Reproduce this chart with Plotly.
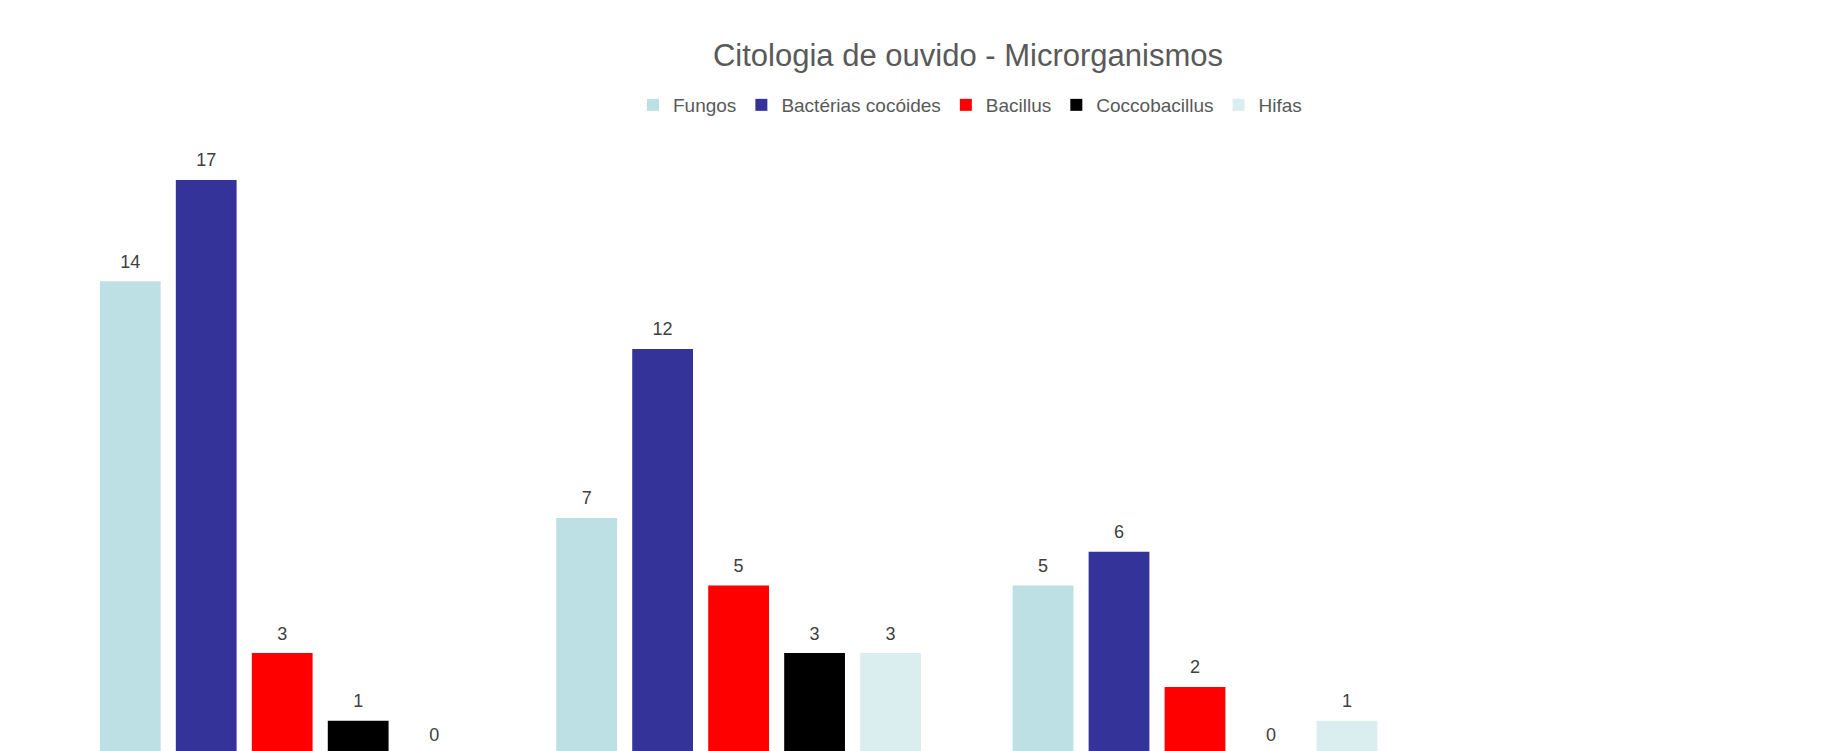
import plotly.graph_objects as go

categories = ["Grupo 1", "Grupo 2", "Grupo 3"]
series_names = ["Fungos", "Bactérias cocóides", "Bacillus", "Coccobacillus", "Hifas"]
fungos = [14, 7, 5]
bacterias_cocoides = [17, 12, 6]
bacillus = [3, 5, 2]
coccobacillus = [1, 3, 0]
hifas = [0, 3, 1]
colors = ["#BCE0E4", "#333399", "#FF0000", "#000000", "#DAEDEF"]

series_values = [fungos, bacterias_cocoides, bacillus, coccobacillus, hifas]

W, H = 1825, 751
ml, mt = 54, 130
plot_h = H - mt
px_per_unit = 33.8
below = 3.5  # baseline lies this many px below the bottom of the window
y0 = below / px_per_unit
y1 = y0 + plot_h / px_per_unit
# label axis: same scale, shifted so that zero-valued labels stay inside its range
label_shift = y0 + 0.02
cat_w = 456.4
x1 = -0.5 + (W - ml) / cat_w
font_fam = "Liberation Sans, Arial, sans-serif"

fig = go.Figure()
for i, (name, vals, col) in enumerate(zip(series_names, series_values, colors)):
    fig.add_trace(go.Bar(
        name=name, x=categories, y=vals, offsetgroup=str(i),
        marker=dict(color=col, line=dict(width=0)),
        hoverinfo="x+y+name",
    ))
for i, (name, vals) in enumerate(zip(series_names, series_values)):
    fig.add_trace(go.Scatter(
        x=categories, y=vals, offsetgroup=str(i), mode="markers+text",
        yaxis="y2",
        text=[str(v) for v in vals], textposition="top center",
        textfont=dict(size=18, color="#404040", family=font_fam),
        marker=dict(size=6, color="rgba(0,0,0,0)"),
        showlegend=False, hoverinfo="skip", cliponaxis=False,
    ))

fig.update_layout(
    width=W, height=H,
    margin=dict(l=ml, r=0, t=mt, b=0, autoexpand=False),
    paper_bgcolor="white", plot_bgcolor="white",
    barmode="group", bargap=0.1676, bargroupgap=0.2,
    scattermode="group", scattergap=0.1676,
    font=dict(family=font_fam, color="#595959"),
    title=dict(text="Citologia de ouvido - Microrganismos", xref="container", x=968 / W,
               xanchor="center", yref="container", y=1 - 55 / H, yanchor="middle",
               font=dict(size=31, color="#595959")),
    legend=dict(orientation="h", xref="container", x=970 / W, xanchor="center",
                yref="container", y=1 - 105 / H, yanchor="middle",
                font=dict(size=19, color="#595959"), itemwidth=30,
                traceorder="normal"),
    xaxis=dict(range=[-0.5, x1], showticklabels=False, showgrid=False, zeroline=False,
               showline=False, ticks=""),
    yaxis=dict(range=[y0, y1], showticklabels=False, showgrid=False, zeroline=False,
               showline=False, ticks=""),
    yaxis2=dict(range=[y0 - label_shift, y1 - label_shift], overlaying="y",
                showticklabels=False, showgrid=False, zeroline=False,
                showline=False, ticks=""),
)

fig.write_html("out.html")
